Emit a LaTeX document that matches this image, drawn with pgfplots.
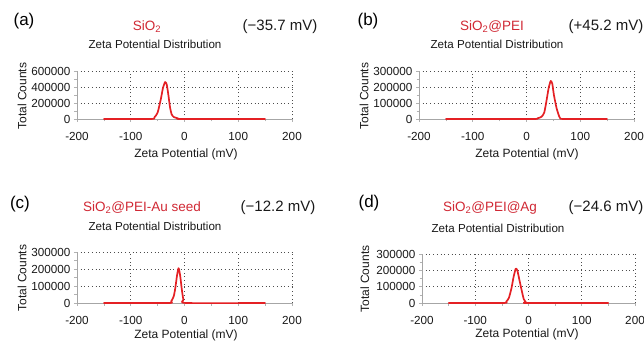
\documentclass[border=0pt]{standalone}
\usepackage{pgfplots}
\pgfplotsset{compat=1.18}
\usepackage{fontspec}
\setmainfont{Liberation Sans}
\definecolor{curvered}{RGB}{228,32,36}
\definecolor{namered}{RGB}{208,40,52}
\pgfplotsset{
 zp/.style={
  scale only axis,
  xmin=-200, xmax=200, ymin=0,
  scaled y ticks=false, scaled x ticks=false,
  axis x line*=bottom, axis y line*=left,
  axis line style={draw=black!35, -, line width=0.8pt},
  xtick={-200,-100,0,100,200},
  xticklabels={-200,-100,0,100,200},
  minor x tick num=1, minor y tick num=1,
  xmajorgrids, ymajorgrids,
  major grid style={draw=black!70, line width=0.9pt, dash pattern=on 0.8pt off 2.9pt},
  tick align=outside,
  major tick length=3pt, minor tick length=2.5pt,
  tick style={draw=black!30, line width=0.6pt},
  tick label style={font=\fontsize{11.7}{13}\selectfont, text=black!90},
  xticklabel style={yshift=-7pt},
  label style={font=\fontsize{12}{13}\selectfont, text=black!90},
  title style={font=\fontsize{11.6}{13}\selectfont, text=black!90},
  every axis title shift=0pt,
  xlabel={Zeta Potential (mV)},
  ylabel={Total Counts},
  title={Zeta Potential Distribution},
  clip=false,
 },
 lpos/.style n args={6}{
  xlabel style={at={(axis description cs:#1,#2)}, anchor=center, xshift=0pt, yshift=0pt},
  ylabel style={at={(axis description cs:#3,#4)}, anchor=center, xshift=0pt, yshift=0pt},
  title style={at={(axis description cs:#5,#6)}, anchor=center, xshift=0pt, yshift=0pt},
 },
 zpline/.style={curvered, line width=1.7pt, smooth, tension=0.35, line join=round, line cap=round},
}
\begin{document}
\begin{tikzpicture}[x=1pt,y=1pt]
\useasboundingbox (0,0) rectangle (644,343);
% (a)
\begin{axis}[zp, at={(77pt,224pt)}, anchor=south west, width=215pt, height=48pt,
  ymax=600000, ytick={0,200000,400000,600000}, yticklabels={0,200000,400000,600000},
  lpos={0.507}{-0.729}{-0.256}{0.479}{0.363}{1.5625}]
\addplot[zpline] coordinates {(-150,0) (-62,0) (-56,20000) (-50,80000) (-44,250000) (-40,390000) (-36,462000) (-33,430000) (-30,300000) (-27,150000) (-24,60000) (-20,25000) (-12,8000) (-5,0) (150,0)};
\end{axis}
\node[font=\fontsize{17}{19}\selectfont] at (24,322) {(a)};
\node[font=\fontsize{13.5}{15}\selectfont, text=namered] at (147,316) {SiO\textsubscript{2}};
\node[font=\fontsize{15}{17}\selectfont, text=black!90] at (280,316) {(−35.7 mV)};
% (b)
\begin{axis}[zp, at={(419pt,224pt)}, anchor=south west, width=215pt, height=48pt,
  ymax=300000, ytick={0,100000,200000,300000}, yticklabels={0,100000,200000,300000},
  lpos={0.502}{-0.729}{-0.256}{0.479}{0.363}{1.5625}]
\addplot[zpline] coordinates {(-150,0) (10,0) (20,4000) (28,14000) (33,40000) (37,110000) (41,190000) (45,238000) (48,220000) (51,150000) (56,67000) (62,8000) (70,0) (150,0)};
\end{axis}
\node[font=\fontsize{17}{19}\selectfont] at (368,322) {(b)};
\node[font=\fontsize{13.5}{15}\selectfont, text=namered] at (492,316) {SiO\textsubscript{2}@PEI};
\node[font=\fontsize{15}{17}\selectfont, text=black!90] at (606,316) {(+45.2 mV)};
% (c)
\begin{axis}[zp, at={(77pt,40pt)}, anchor=south west, width=215pt, height=51pt,
  ymax=300000, ytick={0,100000,200000,300000}, yticklabels={0,100000,200000,300000},
  lpos={0.507}{-0.627}{-0.256}{0.49}{0.363}{1.51}]
\addplot[zpline] coordinates {(-150,0) (-30,0) (-25,8000) (-20,40000) (-17,90000) (-14,160000) (-11,205000) (-8,160000) (-5,80000) (-2,20000) (3,0) (150,0)};
\end{axis}
\node[font=\fontsize{17}{19}\selectfont] at (20,139) {(c)};
\node[font=\fontsize{13.5}{15}\selectfont, text=namered] at (142,135) {SiO\textsubscript{2}@PEI-Au seed};
\node[font=\fontsize{15}{17}\selectfont, text=black!90] at (278,135) {(−12.2 mV)};
% (d)
\begin{axis}[zp, at={(422pt,40pt)}, anchor=south west, width=213pt, height=49pt,
  ymax=300000, ytick={0,100000,200000,300000}, yticklabels={0,100000,200000,300000},
  lpos={0.493}{-0.633}{-0.268}{0.49}{0.357}{1.53}]
\addplot[zpline] coordinates {(-150,0) (-47,0) (-42,8000) (-37,30000) (-32,90000) (-28,160000) (-24,210000) (-21,200000) (-17,140000) (-13,80000) (-9,25000) (-5,5000) (-2,0) (150,0)};
\end{axis}
\node[font=\fontsize{17}{19}\selectfont] at (369,140) {(d)};
\node[font=\fontsize{13.5}{15}\selectfont, text=namered] at (490,135) {SiO\textsubscript{2}@PEI@Ag};
\node[font=\fontsize{15}{17}\selectfont, text=black!90] at (606,135) {(−24.6 mV)};
\end{tikzpicture}
\end{document}
